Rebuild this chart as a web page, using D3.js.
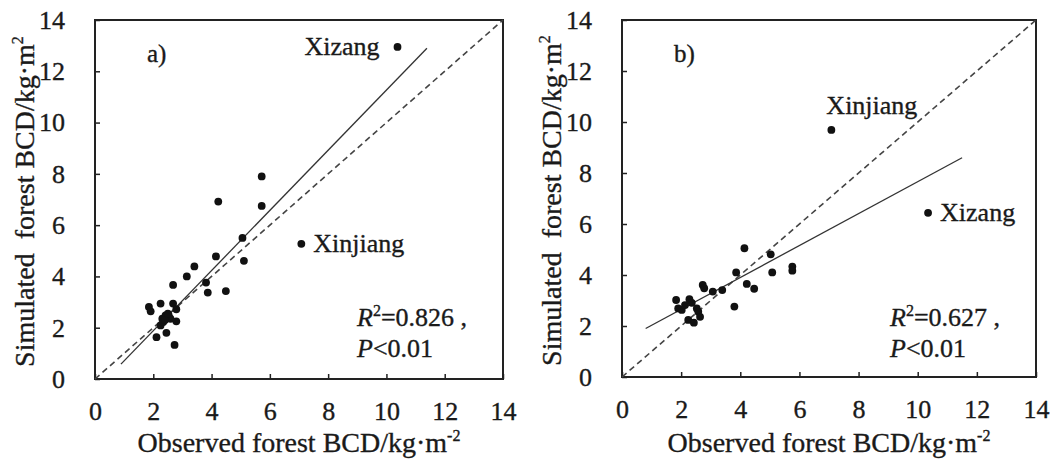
<!DOCTYPE html>
<html><head><meta charset="utf-8">
<script src="https://cdn.jsdelivr.net/npm/d3@7"></script>
<style>
html,body{margin:0;padding:0;background:#fff;}
svg text{font-family:"Liberation Serif","Times New Roman",serif;fill:#1a1a1a;stroke:#1a1a1a;stroke-width:0.35px;}
</style></head>
<body><svg id="c" width="1056" height="461"></svg>
<script>
// ---- data ----
const xTicks = [0, 2, 4, 6, 8, 10, 12, 14];
const yTicks = [0, 2, 4, 6, 8, 10, 12, 14];
const panelLabels = ["a)", "b)"];
const r2Labels = ["0.826", "0.627"];
const pLabel = "P<0.01";
// panel a: [observed, simulated]
const pointsA = [
  [1.85,2.81],[1.91,2.64],[2.25,2.94],[2.68,3.67],[2.68,2.94],[2.79,2.72],
  [2.42,2.48],[2.53,2.48],[2.31,2.35],[2.59,2.35],[2.79,2.25],[2.25,2.09],
  [2.45,1.80],[2.11,1.63],[2.73,1.33],[2.34,2.22],[2.40,2.30],[2.50,2.55],
  [3.15,4.00],[3.41,4.39],[3.81,3.76],[3.87,3.37],[4.49,3.43],[4.15,4.78],
  [4.23,6.92],[5.06,5.50],[5.11,4.61],[5.72,6.75],[5.72,7.90],[7.08,5.27],
  [10.38,12.95]
];
// panel b: [observed, simulated]
const pointsB = [
  [1.83,3.02],[1.90,2.69],[2.02,2.63],[2.28,3.05],[2.36,2.91],[2.13,2.82],
  [2.53,2.69],[2.58,2.56],[2.64,2.36],[2.24,2.24],[2.43,2.13],[2.73,3.61],
  [2.78,3.48],[3.07,3.35],[3.39,3.41],[3.80,2.76],[3.86,4.10],[4.14,5.05],
  [4.22,3.65],[4.47,3.46],[5.03,4.81],[5.08,4.10],[5.76,4.33],[5.76,4.17],
  [7.08,9.69],[10.35,6.44]
];
// fitted lines: [x0, y0], [x1, y1]
const fitA = [[0.89,0.58],[11.39,12.90]];
const fitB = [[0.80,1.90],[11.50,8.60]];
const oneToOne = [[0,0],[14,14]];
// province annotations: [label, observed, simulated]
const annA = [["Xizang",10.38,12.95],["Xinjiang",7.08,5.27]];
const annB = [["Xinjiang",7.08,9.69],["Xizang",10.35,6.44]];

// ---- drawing ----
const svg = d3.select("#c");
const panels = [
  {pts: pointsA, fit: fitA, ann: annA, lab: panelLabels[0], r2: r2Labels[0],
   L: 95, R: 503, B: 379, T: 20, annPos: [{dx:-18, dy:8, anchor:"end"}, {dx:12, dy:8, anchor:"start"}]},
  {pts: pointsB, fit: fitB, ann: annB, lab: panelLabels[1], r2: r2Labels[1],
   L: 622, R: 1036, B: 377, T: 20, annPos: [{dx:-5, dy:-16, anchor:"start"}, {dx:12, dy:8, anchor:"start"}]}
];

panels.forEach(p => {
  const x = d3.scaleLinear().domain([0, 14]).range([p.L, p.R]);
  const y = d3.scaleLinear().domain([0, 14]).range([p.B, p.T]);
  const g = svg.append("g");

  // axes with inward ticks
  const ax = g.append("g").attr("transform", `translate(0,${p.B})`)
    .call(d3.axisBottom(x).tickValues(xTicks).tickSizeInner(-5).tickSizeOuter(0).tickPadding(23));
  const ay = g.append("g").attr("transform", `translate(${p.L},0)`)
    .call(d3.axisLeft(y).tickValues(yTicks).tickSizeInner(-5).tickSizeOuter(0).tickPadding(30));
  [ax, ay].forEach(a => {
    a.select(".domain").remove();
    a.selectAll(".tick line").attr("stroke", "#222").attr("stroke-width", 1.5);
    a.selectAll(".tick text").attr("font-size", 26).attr("fill", "#1a1a1a")
      .style("font-family", '"Liberation Serif","Times New Roman",serif');
  });

  // frame
  g.append("rect").attr("x", p.L).attr("y", p.T)
    .attr("width", p.R - p.L).attr("height", p.B - p.T)
    .attr("fill", "none").attr("stroke", "#222").attr("stroke-width", 2);

  const line = d3.line().x(d => x(d[0])).y(d => y(d[1]));
  // 1:1 dashed
  g.append("path").attr("d", line(oneToOne)).attr("fill", "none")
    .attr("stroke", "#444").attr("stroke-width", 1.6).attr("stroke-dasharray", "6,4");
  // fit
  g.append("path").attr("d", line(p.fit)).attr("fill", "none")
    .attr("stroke", "#333").attr("stroke-width", 1.3);

  // points
  g.selectAll("circle.pt").data(p.pts).enter().append("circle")
    .attr("cx", d => x(d[0])).attr("cy", d => y(d[1])).attr("r", 3.9).attr("fill", "#111");

  // annotations
  p.ann.forEach((a, i) => {
    const pos = p.annPos[i];
    g.append("text").attr("x", x(a[1]) + pos.dx).attr("y", y(a[2]) + pos.dy)
      .attr("text-anchor", pos.anchor).attr("font-size", 26).text(a[0]);
  });

  // panel label
  g.append("text").attr("x", p.L + 52).attr("y", 62).attr("font-size", 25).text(p.lab);

  // R2 and P
  const t = g.append("text").attr("x", p.R - 146).attr("y", 326).attr("font-size", 26);
  t.append("tspan").attr("font-style", "italic").text("R");
  t.append("tspan").attr("font-size", 16).attr("dy", -10).text("2");
  t.append("tspan").attr("dy", 10).text("=" + p.r2 + " ,");
  const t2 = g.append("text").attr("x", p.R - 146).attr("y", 357).attr("font-size", 26);
  t2.append("tspan").attr("font-style", "italic").text("P");
  t2.append("tspan").text(pLabel.slice(1));

  // axis titles
  const xt = g.append("text").attr("x", (p.L + p.R) / 2).attr("y", 452)
    .attr("text-anchor", "middle").attr("font-size", 28);
  xt.append("tspan").text("Observed forest BCD/kg\u00b7m");
  xt.append("tspan").attr("font-size", 16).attr("dy", -11).text("-2");

  const yt = g.append("text")
    .attr("transform", `translate(${p.L - 61},${(p.T + p.B) / 2 + 2}) rotate(-90)`)
    .attr("text-anchor", "middle").attr("font-size", 28);
  yt.append("tspan").text("Simulated\u00a0 forest BCD/kg\u00b7m");
  yt.append("tspan").attr("font-size", 16).attr("dy", -11).text("2");
});
</script></body></html>
